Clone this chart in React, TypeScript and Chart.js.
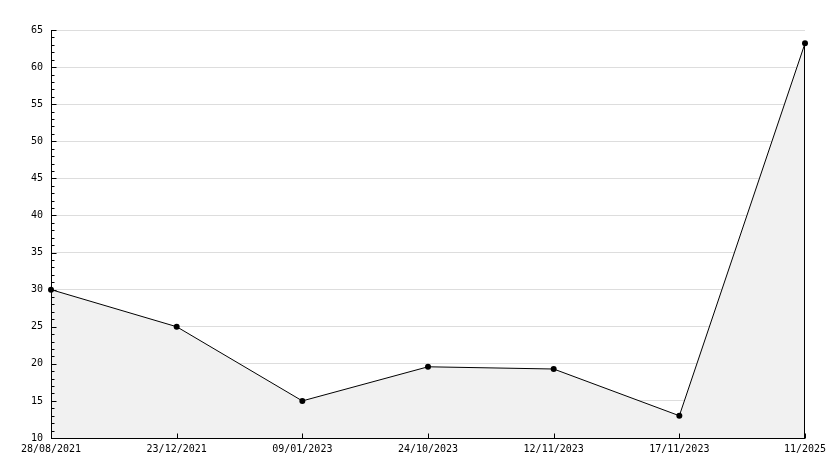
import React, { useEffect, useRef } from "react";
import { Chart, registerables } from "chart.js";

Chart.register(...registerables);

const categories = ["28/08/2021", "23/12/2021", "09/01/2023", "24/10/2023", "12/11/2023", "17/11/2023", "11/2025"];
const values = [30, 25, 15, 19.6, 19.3, 13, 63.2];
const yMin = 10;
const yMax = 65;
const yStep = 5;
const minorStep = 1;

const FONT = "'DejaVu Sans Mono', monospace";

const axisPlugin = {
  id: "axisTicks",
  afterDatasetsDraw(chart: any) {
    const { ctx, chartArea, scales } = chart;
    const y = scales.y;
    const x = scales.x;
    ctx.save();
    ctx.strokeStyle = "#000";
    ctx.lineWidth = 1;
    ctx.beginPath();
    const ax = Math.round(chartArea.left) + 0.5;
    ctx.moveTo(ax, chartArea.top);
    ctx.lineTo(ax, chartArea.bottom + 0.5);
    const by = Math.round(chartArea.bottom) + 0.5;
    ctx.moveTo(chartArea.left, by);
    ctx.lineTo(chartArea.right, by);
    for (let v = yMin; v <= yMax + 1e-9; v += minorStep) {
      const py = Math.round(y.getPixelForValue(v)) + 0.5;
      const major = Math.abs(v / yStep - Math.round(v / yStep)) < 1e-9;
      ctx.moveTo(ax, py);
      ctx.lineTo(ax + (major ? 5 : 3), py);
    }
    for (let i = 0; i < categories.length; i++) {
      const px = Math.round(x.getPixelForValue(i)) + 0.5;
      ctx.moveTo(px, by);
      ctx.lineTo(px, by - 5);
    }
    const meta = chart.getDatasetMeta(0);
    const last = meta.data[meta.data.length - 1];
    if (last) {
      const lx = Math.round(last.x) - 0.5;
      ctx.moveTo(lx, last.y);
      ctx.lineTo(lx, by);
    }
    ctx.stroke();
    ctx.restore();
  },
};

export default function App() {
  const ref = useRef<HTMLCanvasElement>(null);
  useEffect(() => {
    if (!ref.current) return;
    const chart = new Chart(ref.current, {
      type: "line",
      data: {
        labels: categories,
        datasets: [
          {
            data: values,
            borderColor: "#000",
            borderWidth: 1,
            backgroundColor: "#f1f1f1",
            fill: "origin",
            tension: 0,
            pointRadius: 3,
            pointBackgroundColor: "#000",
            pointBorderColor: "#000",
            pointBorderWidth: 0,
          },
        ],
      },
      options: {
        animation: false,
        responsive: false,
        maintainAspectRatio: false,
        events: [],
        layout: { padding: { left: 0, right: 29, top: 30, bottom: 0 } },
        plugins: { legend: { display: false }, tooltip: { enabled: false } },
        scales: {
          x: {
            type: "category",
            offset: false,
            grid: { display: false, drawTicks: false },
            border: { display: false },
            ticks: {
              color: "#000",
              font: { family: FONT, size: 10 },
              padding: 5,
              maxRotation: 0,
              autoSkip: false,
            },
            afterFit(scale: any) {
              scale.height = 30;
            },
          },
          y: {
            min: yMin,
            max: yMax,
            grid: { color: "#dddddd", drawTicks: false, lineWidth: 1 },
            border: { display: false },
            ticks: {
              stepSize: yStep,
              color: "#000",
              font: { family: FONT, size: 10 },
              padding: 8,
            },
            afterFit(scale: any) {
              scale.width = 51;
            },
          },
        },
      },
      plugins: [axisPlugin],
    });
    return () => chart.destroy();
  }, []);
  return (
    <div style={{ position: "fixed", left: 0, top: 0, width: 834, height: 468, background: "#fff" }}>
      <canvas ref={ref} width={834} height={468} style={{ width: 834, height: 468, display: "block" }} />
    </div>
  );
}
